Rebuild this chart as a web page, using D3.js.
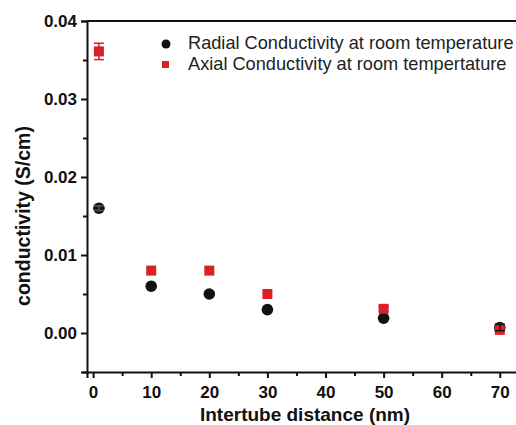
<!DOCTYPE html>
<html lang="en">
<head>
  <meta charset="UTF-8">
  <title>Conductivity vs intertube distance</title>
  <script src="https://cdn.jsdelivr.net/npm/d3@7"></script>
  <style>
    html, body { margin: 0; padding: 0; background: #fff; }
    svg { display: block; font-family: "Liberation Sans", Arial, sans-serif; }
  </style>
</head>
<body>
  <svg width="516" height="425"></svg>
  <script>
    // data
    var distance = [1, 10, 20, 30, 50, 70];
    var radial = [0.016, 0.006, 0.005, 0.003, 0.0019, 0.0007];
    var radialErr = [0.0003, 0, 0, 0, 0, 0.0004];
    var axial = [0.0361, 0.008, 0.008, 0.005, 0.0031, 0.0004];
    var axialErr = [0.00105, 0, 0, 0, 0.0003, 0];
    var xTicks = [0, 10, 20, 30, 40, 50, 60, 70];
    var yTicks = [0, 0.01, 0.02, 0.03, 0.04];
    var legendLabels = ["Radial Conductivity at room temperature", "Axial Conductivity at room tempertature"];

    var svg = d3.select("svg"),
        margin = { top: 21, left: 87 },
        height = 351;

    var x = d3.scaleLinear().domain([-1.05, 75]).range([margin.left, margin.left + 76.05 * 5.81]);
    var y = d3.scaleLinear().domain([-0.005, 0.04]).range([margin.top + height, margin.top]);

    var g = svg.append("g");

    // x axis, major + minor ticks
    g.append("g")
        .attr("transform", "translate(0," + (margin.top + height) + ")")
        .call(d3.axisBottom(x).tickValues(xTicks).tickFormat(d3.format("d")).tickSizeOuter(0).tickSize(6).tickPadding(8));
    g.append("g")
        .attr("transform", "translate(0," + (margin.top + height) + ")")
        .call(d3.axisBottom(x).tickValues(d3.range(5, 75, 10)).tickFormat("").tickSize(4))
        .call(function (a) { a.select(".domain").remove(); });

    g.append("g")
        .attr("transform", "translate(" + margin.left + ",0)")
        .call(d3.axisLeft(y).tickValues(yTicks).tickFormat(d3.format(".2f")).tickSizeOuter(0).tickSize(6).tickPadding(4));
    g.append("g")
        .attr("transform", "translate(" + margin.left + ",0)")
        .call(d3.axisLeft(y).tickValues([-0.005, 0.005, 0.015, 0.025, 0.035]).tickFormat("").tickSize(4))
        .call(function (a) { a.select(".domain").remove(); });

    // top frame line
    g.append("line")
        .attr("x1", margin.left).attr("x2", 516)
        .attr("y1", y(0.04)).attr("y2", y(0.04))
        .attr("stroke", "#111").attr("stroke-width", 2);

    g.selectAll(".domain, .tick line").attr("stroke", "#111").attr("stroke-width", 2);
    g.selectAll(".tick text")
        .attr("fill", "#111")
        .attr("font-size", 17)
        .attr("font-weight", "bold")
        .attr("font-family", "Liberation Sans, Arial, sans-serif");

    // error bars
    function errBars(vals, errs, color) {
        var data = distance.map(function (d, i) { return { x: d, v: vals[i], e: errs[i] }; })
            .filter(function (d) { return d.e > 0; });
        var eb = g.append("g").attr("stroke", color).attr("stroke-width", 1.5);
        eb.selectAll(".v").data(data).enter().append("line")
            .attr("x1", function (d) { return x(d.x); }).attr("x2", function (d) { return x(d.x); })
            .attr("y1", function (d) { return y(d.v - d.e); }).attr("y2", function (d) { return y(d.v + d.e); });
        eb.selectAll(".t").data(data).enter().append("line")
            .attr("x1", function (d) { return x(d.x) - 5; }).attr("x2", function (d) { return x(d.x) + 5; })
            .attr("y1", function (d) { return y(d.v + d.e); }).attr("y2", function (d) { return y(d.v + d.e); });
        eb.selectAll(".b").data(data).enter().append("line")
            .attr("x1", function (d) { return x(d.x) - 5; }).attr("x2", function (d) { return x(d.x) + 5; })
            .attr("y1", function (d) { return y(d.v - d.e); }).attr("y2", function (d) { return y(d.v - d.e); });
    }

    // radial circles
    g.append("g").selectAll("circle")
        .data(distance.map(function (d, i) { return [d, radial[i]]; }))
        .enter().append("circle")
        .attr("cx", function (d) { return x(d[0]); })
        .attr("cy", function (d) { return y(d[1]); })
        .attr("r", 5.8)
        .attr("fill", "#111");
    errBars(radial, radialErr, "#555");

    // axial squares
    g.append("g").selectAll("rect")
        .data(distance.map(function (d, i) { return [d, axial[i]]; }))
        .enter().append("rect")
        .attr("x", function (d) { return x(d[0]) - 5; })
        .attr("y", function (d) { return y(d[1]) - 5; })
        .attr("width", 10).attr("height", 10)
        .attr("fill", "#d92027");
    errBars(axial, axialErr, "#d92027");
    // the black error bar on the last point sits on top of the red square
    errBars(radial.map(function (v, i) { return i === 5 ? v : 0; }), radialErr.map(function (e, i) { return i === 5 ? e : 0; }), "#111");

    // legend
    var legend = g.append("g").attr("font-size", 18.2).attr("fill", "#222");
    legend.append("circle").attr("cx", 166).attr("cy", 44).attr("r", 4.5).attr("fill", "#111");
    legend.append("rect").attr("x", 162).attr("y", 61).attr("width", 7).attr("height", 7).attr("fill", "#d92027");
    legend.append("text").attr("x", 188).attr("y", 49).text(legendLabels[0]);
    legend.append("text").attr("x", 188).attr("y", 69.5).text(legendLabels[1]);

    // axis titles
    g.append("text")
        .attr("x", 305).attr("y", 421)
        .attr("text-anchor", "middle")
        .attr("font-size", 19).attr("font-weight", "bold").attr("fill", "#111")
        .text("Intertube distance (nm)");
    g.append("text")
        .attr("transform", "translate(30,216) rotate(-90)")
        .attr("text-anchor", "middle")
        .attr("font-size", 19.5).attr("font-weight", "bold").attr("fill", "#111")
        .text("conductivity (S/cm)");
  </script>
</body>
</html>
